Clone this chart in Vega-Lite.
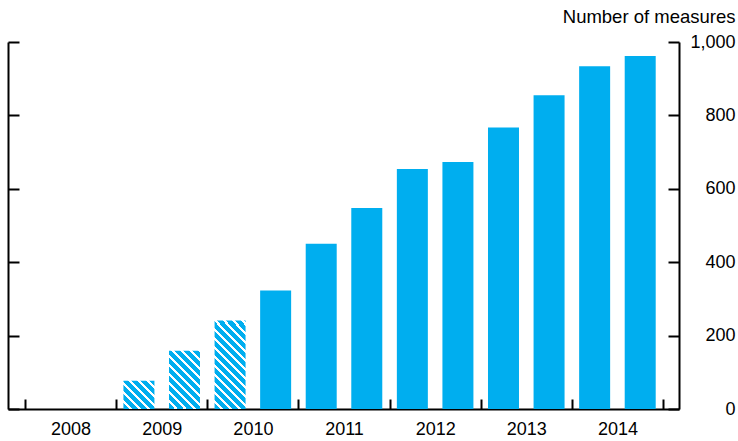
{
  "$schema": "https://vega.github.io/schema/vega-lite/v6.json",
  "width": 671,
  "height": 367,
  "autosize": {"type": "none"},
  "padding": {"left": 8, "top": 42, "right": 59, "bottom": 32},
  "background": "white",
  "config": {
    "view": {"stroke": null},
    "font": "Liberation Sans",
    "axis": {
      "domainColor": "black",
      "domainWidth": 2,
      "tickColor": "black",
      "tickWidth": 2,
      "labelColor": "black",
      "labelFont": "Liberation Sans",
      "labelFontSize": 18,
      "grid": false
    }
  },
  "data": {
    "values": [
      {"year": 2009.25, "measures": 77, "hatched": true},
      {"year": 2009.75, "measures": 159, "hatched": true},
      {"year": 2010.25, "measures": 241, "hatched": true},
      {"year": 2010.75, "measures": 323, "hatched": false},
      {"year": 2011.25, "measures": 450, "hatched": false},
      {"year": 2011.75, "measures": 548, "hatched": false},
      {"year": 2012.25, "measures": 654, "hatched": false},
      {"year": 2012.75, "measures": 673, "hatched": false},
      {"year": 2013.25, "measures": 767, "hatched": false},
      {"year": 2013.75, "measures": 855, "hatched": false},
      {"year": 2014.25, "measures": 934, "hatched": false},
      {"year": 2014.75, "measures": 962, "hatched": false}
    ]
  },
  "resolve": {"axis": {"y": "independent"}},
  "layer": [
    {
      "transform": [{"filter": "!datum.hatched"}],
      "mark": {"type": "bar", "orient": "vertical", "width": 31, "color": "#00aeef"},
      "encoding": {
        "x": {
          "field": "year", "type": "quantitative",
          "scale": {"domain": [2007.8135, 2015.1756], "nice": false, "zero": false, "padding": 0},
          "axis": {
            "orient": "bottom", "title": null,
            "values": [2008, 2009, 2010, 2011, 2012, 2013, 2014, 2015],
            "format": "d",
            "labelExpr": "datum.value < 2015 ? datum.label : ''",
            "tickSize": -10,
            "labelOffset": 45.6,
            "labelPadding": 21,
            "labelFlush": false,
            "labelOverlap": false,
            "labelBound": false
          }
        },
        "y": {
          "field": "measures", "type": "quantitative",
          "scale": {"domain": [0, 1000], "nice": false},
          "axis": {
            "orient": "right",
            "values": [0, 200, 400, 600, 800, 1000],
            "format": ",d",
            "tickSize": -11,
            "labelAlign": "right",
            "labelPadding": 67,
            "title": "Number of measures",
            "titleAngle": 0,
            "titleAlign": "right",
            "titleBaseline": "alphabetic",
            "titleX": 56,
            "titleY": -20,
            "titleFontSize": 18.5,
            "titleFontWeight": "normal",
            "titleFont": "Liberation Sans",
            "titleColor": "black"
          }
        }
      }
    },
    {
      "transform": [{"filter": "datum.year == 2009.25"}],
      "mark": {
        "type": "bar", "orient": "vertical", "width": 31,
        "color": {
          "gradient": "linear", "x1": 0, "y1": 1, "x2": 1.048, "y2": 0.0533,
          "stops": [
            {"offset": 0, "color": "#00aeef"}, {"offset": 0.1017, "color": "#00aeef"},
            {"offset": 0.1017, "color": "#ffffff"}, {"offset": 0.1525, "color": "#ffffff"},
            {"offset": 0.1525, "color": "#00aeef"}, {"offset": 0.2542, "color": "#00aeef"},
            {"offset": 0.2542, "color": "#ffffff"}, {"offset": 0.3051, "color": "#ffffff"},
            {"offset": 0.3051, "color": "#00aeef"}, {"offset": 0.4068, "color": "#00aeef"},
            {"offset": 0.4068, "color": "#ffffff"}, {"offset": 0.4576, "color": "#ffffff"},
            {"offset": 0.4576, "color": "#00aeef"}, {"offset": 0.5593, "color": "#00aeef"},
            {"offset": 0.5593, "color": "#ffffff"}, {"offset": 0.6102, "color": "#ffffff"},
            {"offset": 0.6102, "color": "#00aeef"}, {"offset": 0.7119, "color": "#00aeef"},
            {"offset": 0.7119, "color": "#ffffff"}, {"offset": 0.7627, "color": "#ffffff"},
            {"offset": 0.7627, "color": "#00aeef"}, {"offset": 0.8644, "color": "#00aeef"},
            {"offset": 0.8644, "color": "#ffffff"}, {"offset": 0.9153, "color": "#ffffff"},
            {"offset": 0.9153, "color": "#00aeef"}, {"offset": 1, "color": "#00aeef"}
          ]
        }
      },
      "encoding": {
        "x": {
          "field": "year", "type": "quantitative",
          "scale": {"domain": [2007.8135, 2015.1756], "nice": false, "zero": false, "padding": 0},
          "axis": {
            "orient": "bottom", "title": null,
            "values": [2008, 2009, 2010, 2011, 2012, 2013, 2014, 2015],
            "format": "d",
            "labelExpr": "datum.value < 2015 ? datum.label : ''",
            "tickSize": -10,
            "labelOffset": 45.6,
            "labelPadding": 21,
            "labelFlush": false,
            "labelOverlap": false,
            "labelBound": false
          }
        },
        "y": {
          "field": "measures", "type": "quantitative",
          "axis": {
            "orient": "left",
            "values": [0, 200, 400, 600, 800, 1000],
            "labels": false,
            "tickSize": -11,
            "title": null
          }
        }
      }
    },
    {
      "transform": [{"filter": "datum.year == 2009.75"}],
      "mark": {
        "type": "bar", "orient": "vertical", "width": 31,
        "color": {
          "gradient": "linear", "x1": 0, "y1": 1, "x2": 0.638, "y2": -0.1935,
          "stops": [
            {"offset": 0, "color": "#00aeef"}, {"offset": 0.0674, "color": "#00aeef"},
            {"offset": 0.0674, "color": "#ffffff"}, {"offset": 0.1011, "color": "#ffffff"},
            {"offset": 0.1011, "color": "#00aeef"}, {"offset": 0.1685, "color": "#00aeef"},
            {"offset": 0.1685, "color": "#ffffff"}, {"offset": 0.2022, "color": "#ffffff"},
            {"offset": 0.2022, "color": "#00aeef"}, {"offset": 0.2697, "color": "#00aeef"},
            {"offset": 0.2697, "color": "#ffffff"}, {"offset": 0.3034, "color": "#ffffff"},
            {"offset": 0.3034, "color": "#00aeef"}, {"offset": 0.3708, "color": "#00aeef"},
            {"offset": 0.3708, "color": "#ffffff"}, {"offset": 0.4045, "color": "#ffffff"},
            {"offset": 0.4045, "color": "#00aeef"}, {"offset": 0.4719, "color": "#00aeef"},
            {"offset": 0.4719, "color": "#ffffff"}, {"offset": 0.5056, "color": "#ffffff"},
            {"offset": 0.5056, "color": "#00aeef"}, {"offset": 0.5730, "color": "#00aeef"},
            {"offset": 0.5730, "color": "#ffffff"}, {"offset": 0.6067, "color": "#ffffff"},
            {"offset": 0.6067, "color": "#00aeef"}, {"offset": 0.6742, "color": "#00aeef"},
            {"offset": 0.6742, "color": "#ffffff"}, {"offset": 0.7079, "color": "#ffffff"},
            {"offset": 0.7079, "color": "#00aeef"}, {"offset": 0.7753, "color": "#00aeef"},
            {"offset": 0.7753, "color": "#ffffff"}, {"offset": 0.8090, "color": "#ffffff"},
            {"offset": 0.8090, "color": "#00aeef"}, {"offset": 0.8764, "color": "#00aeef"},
            {"offset": 0.8764, "color": "#ffffff"}, {"offset": 0.9101, "color": "#ffffff"},
            {"offset": 0.9101, "color": "#00aeef"}, {"offset": 0.9775, "color": "#00aeef"},
            {"offset": 0.9775, "color": "#ffffff"}, {"offset": 1, "color": "#ffffff"}
          ]
        }
      },
      "encoding": {
        "x": {
          "field": "year", "type": "quantitative",
          "scale": {"domain": [2007.8135, 2015.1756], "nice": false, "zero": false, "padding": 0},
          "axis": {
            "orient": "bottom", "title": null,
            "values": [2008, 2009, 2010, 2011, 2012, 2013, 2014, 2015],
            "format": "d",
            "labelExpr": "datum.value < 2015 ? datum.label : ''",
            "tickSize": -10,
            "labelOffset": 45.6,
            "labelPadding": 21,
            "labelFlush": false,
            "labelOverlap": false,
            "labelBound": false
          }
        },
        "y": {"field": "measures", "type": "quantitative", "axis": null}
      }
    },
    {
      "transform": [{"filter": "datum.year == 2010.25"}],
      "mark": {
        "type": "bar", "orient": "vertical", "width": 31,
        "color": {
          "gradient": "linear", "x1": 0, "y1": 1, "x2": 0.4238, "y2": -0.2030,
          "stops": [
            {"offset": 0, "color": "#00aeef"}, {"offset": 0.0504, "color": "#00aeef"},
            {"offset": 0.0504, "color": "#ffffff"}, {"offset": 0.0756, "color": "#ffffff"},
            {"offset": 0.0756, "color": "#00aeef"}, {"offset": 0.1261, "color": "#00aeef"},
            {"offset": 0.1261, "color": "#ffffff"}, {"offset": 0.1513, "color": "#ffffff"},
            {"offset": 0.1513, "color": "#00aeef"}, {"offset": 0.2017, "color": "#00aeef"},
            {"offset": 0.2017, "color": "#ffffff"}, {"offset": 0.2269, "color": "#ffffff"},
            {"offset": 0.2269, "color": "#00aeef"}, {"offset": 0.2773, "color": "#00aeef"},
            {"offset": 0.2773, "color": "#ffffff"}, {"offset": 0.3025, "color": "#ffffff"},
            {"offset": 0.3025, "color": "#00aeef"}, {"offset": 0.3529, "color": "#00aeef"},
            {"offset": 0.3529, "color": "#ffffff"}, {"offset": 0.3782, "color": "#ffffff"},
            {"offset": 0.3782, "color": "#00aeef"}, {"offset": 0.4286, "color": "#00aeef"},
            {"offset": 0.4286, "color": "#ffffff"}, {"offset": 0.4538, "color": "#ffffff"},
            {"offset": 0.4538, "color": "#00aeef"}, {"offset": 0.5042, "color": "#00aeef"},
            {"offset": 0.5042, "color": "#ffffff"}, {"offset": 0.5294, "color": "#ffffff"},
            {"offset": 0.5294, "color": "#00aeef"}, {"offset": 0.5798, "color": "#00aeef"},
            {"offset": 0.5798, "color": "#ffffff"}, {"offset": 0.6050, "color": "#ffffff"},
            {"offset": 0.6050, "color": "#00aeef"}, {"offset": 0.6555, "color": "#00aeef"},
            {"offset": 0.6555, "color": "#ffffff"}, {"offset": 0.6807, "color": "#ffffff"},
            {"offset": 0.6807, "color": "#00aeef"}, {"offset": 0.7311, "color": "#00aeef"},
            {"offset": 0.7311, "color": "#ffffff"}, {"offset": 0.7563, "color": "#ffffff"},
            {"offset": 0.7563, "color": "#00aeef"}, {"offset": 0.8067, "color": "#00aeef"},
            {"offset": 0.8067, "color": "#ffffff"}, {"offset": 0.8319, "color": "#ffffff"},
            {"offset": 0.8319, "color": "#00aeef"}, {"offset": 0.8824, "color": "#00aeef"},
            {"offset": 0.8824, "color": "#ffffff"}, {"offset": 0.9076, "color": "#ffffff"},
            {"offset": 0.9076, "color": "#00aeef"}, {"offset": 0.9580, "color": "#00aeef"},
            {"offset": 0.9580, "color": "#ffffff"}, {"offset": 0.9832, "color": "#ffffff"},
            {"offset": 0.9832, "color": "#00aeef"}, {"offset": 1, "color": "#00aeef"}
          ]
        }
      },
      "encoding": {
        "x": {
          "field": "year", "type": "quantitative",
          "scale": {"domain": [2007.8135, 2015.1756], "nice": false, "zero": false, "padding": 0},
          "axis": {
            "orient": "bottom", "title": null,
            "values": [2008, 2009, 2010, 2011, 2012, 2013, 2014, 2015],
            "format": "d",
            "labelExpr": "datum.value < 2015 ? datum.label : ''",
            "tickSize": -10,
            "labelOffset": 45.6,
            "labelPadding": 21,
            "labelFlush": false,
            "labelOverlap": false,
            "labelBound": false
          }
        },
        "y": {"field": "measures", "type": "quantitative", "axis": null}
      }
    }
  ]
}
